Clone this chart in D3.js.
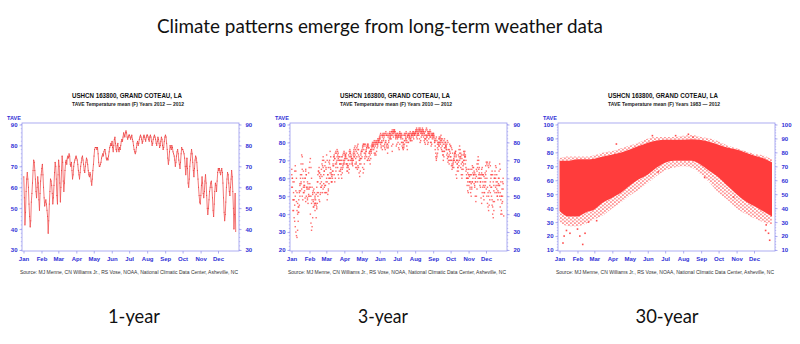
<!DOCTYPE html>
<html><head><meta charset="utf-8">
<script src="https://cdn.jsdelivr.net/npm/d3@7"></script>
<style>body{margin:0;background:#fff}svg{display:block}</style>
</head><body>
<script>
// ---------- data ----------
const months = ["Jan","Feb","Mar","Apr","May","Jun","Jul","Aug","Sep","Oct","Nov","Dec"];
const monthStart = [0,31,60,91,121,152,182,213,244,274,305,335];
const panelLabels = ["1-year","3-year","30-year"];
const subtitles = ["TAVE Temperature mean (F) Years 2012 \u2014 2012","TAVE Temperature mean (F) Years 2010 \u2014 2012","TAVE Temperature mean (F) Years 1983 \u2014 2012"];
const yTicks1 = [30,40,50,60,70,80,90];
const yTicks2 = [20,30,40,50,60,70,80,90];
const yTicks3 = [10,20,30,40,50,60,70,80,90,100];

// daily mean temperature, 2012
const tave2012 = [
65,55,42,48,58,64,67,64,60,52,46,41,44,53,57,62,68,73,72,68,64,58,55,60,65,62,54,49,57,63,66,
69,71,66,60,55,51,53,54,52,49,46,38,44,52,58,64,63,61,57,52,55,61,67,72,70,64,56,52,66,
73,70,62,53,60,68,75,72,63,58,62,68,72,73,71,74,75,74,76,75,71,70,72,68,64,66,70,72,73,74,75,
74,73,71,68,66,64,67,70,72,74,75,73,71,68,67,70,72,74,73,71,68,66,65,67,66,63,61,64,68,71,
75,78,79,79,79,78,79,76,72,70,70,71,72,74,75,76,75,77,78,78,76,74,73,74,73,75,77,79,80,81,80,
82,79,77,80,83,84,81,78,77,80,81,78,77,79,78,80,82,83,82,84,86,85,84,86,87,86,84,83,84,85,
85,84,83,84,85,83,82,80,78,77,76,77,79,81,82,80,81,83,84,85,84,83,81,82,84,85,84,83,82,84,85,
85,84,83,82,84,85,84,82,80,81,83,84,85,84,83,81,80,82,84,83,81,79,80,82,84,83,80,78,79,82,84,
85,84,81,78,74,71,73,77,80,79,78,80,79,77,76,75,73,70,72,75,77,78,76,73,71,69,72,76,79,78,
78,77,76,74,70,66,70,74,69,62,60,64,70,73,76,78,76,72,68,65,69,73,75,74,72,68,64,60,56,53,52,
56,61,65,62,57,55,58,63,66,62,56,50,47,50,54,58,60,62,63,60,55,49,46,52,58,62,61,58,63,67,
69,68,69,67,66,68,69,67,62,55,48,44,47,53,60,64,67,66,62,58,56,60,64,68,65,58,50,40,47,57,39];

// daily mean temperature, 2011
const tave2011 = [
55,60,58,52,48,45,50,53,47,42,40,44,48,52,56,60,58,54,50,48,52,56,53,49,47,50,55,58,54,51,55,
50,40,35,31,33,38,44,48,45,42,46,51,55,58,62,64,66,63,60,62,65,68,70,66,62,64,67,69,
65,60,58,62,66,69,70,66,60,58,61,64,67,70,72,71,68,66,69,72,73,74,72,70,68,65,62,60,63,66,68,
69,71,73,72,68,64,67,70,73,75,76,74,72,70,68,71,74,76,77,78,76,75,77,78,79,76,72,70,71,73,
75,72,66,63,65,68,71,73,75,77,78,79,77,74,70,68,71,74,76,78,79,80,81,80,78,79,80,81,82,81,82,
83,84,85,84,80,76,78,82,85,84,85,86,84,79,74,77,81,85,84,83,84,86,87,86,85,86,87,86,82,78,
79,82,83,84,85,86,85,84,83,80,77,79,84,85,84,83,82,78,76,80,84,84,83,82,81,83,84,85,86,85,84,
85,86,87,88,87,86,87,88,87,86,85,86,87,88,87,86,85,84,86,87,88,87,86,85,84,86,87,86,85,84,83,
84,85,83,80,76,72,70,72,74,76,78,80,82,83,84,82,78,75,73,75,77,79,80,78,76,74,72,70,68,70,
72,70,67,65,66,68,70,72,74,75,73,70,68,66,69,72,74,71,66,62,60,62,65,68,70,72,73,70,65,60,58,
60,62,58,54,58,62,65,67,66,62,57,55,58,62,65,68,70,72,70,66,62,58,60,63,66,62,56,52,55,60,
62,64,60,55,52,50,53,56,58,60,62,64,62,58,56,60,62,60,56,52,50,53,57,60,56,52,48,50,54,58,60];

// daily mean temperature, 2010
const tave2010 = [
62,60,48,42,38,36,33,30,28,27,31,36,41,45,50,53,57,62,65,60,55,52,56,60,64,62,55,48,46,50,54,
57,55,50,46,48,52,47,44,46,50,48,45,43,46,50,52,48,47,51,55,58,56,52,54,57,55,52,56,
58,52,48,51,54,57,60,63,65,62,58,60,64,67,62,58,60,64,68,70,66,62,60,64,68,70,72,68,65,67,70,
68,70,72,73,74,71,68,66,63,65,68,70,72,71,69,70,73,75,72,68,66,69,72,74,76,73,70,68,71,74,
75,76,77,78,76,74,72,74,75,77,78,79,78,77,75,73,76,78,79,80,79,78,77,79,80,81,80,79,78,80,81,
82,83,80,78,81,84,85,84,83,79,76,80,84,85,84,83,84,85,86,85,82,78,75,79,83,87,86,85,84,83,
84,83,80,77,76,79,83,84,85,84,82,80,78,81,84,85,86,85,84,83,80,82,85,86,85,84,81,85,86,85,84,
85,86,87,86,85,84,85,86,87,88,87,86,85,86,87,86,85,82,79,82,84,83,84,85,86,85,84,83,80,84,85,
84,83,82,80,81,82,83,81,79,80,82,83,82,81,80,81,82,80,79,81,82,80,78,77,79,81,80,76,73,75,
74,72,70,68,67,69,71,73,74,75,72,70,68,66,64,67,70,72,74,73,71,69,67,70,73,75,72,66,62,60,63,
65,62,58,55,52,50,54,58,60,62,64,63,60,58,61,64,66,68,65,60,56,58,62,65,62,55,50,48,52,56,
58,54,50,46,44,42,45,48,52,55,50,45,40,38,42,47,52,55,58,54,50,48,52,56,50,44,40,42,46,50,54];

// 30-year envelope, at half-month steps (day of year)
const envDays    = [0,15,31,46,60,75,91,106,121,136,152,167,182,197,213,228,244,259,274,289,305,320,335,350,366];
const envUpper   = [74,74,75,75,75.5,77,78.5,80,82,84.5,87,88.5,89,89,89,89.5,88.8,87.4,85.4,83.5,82,80,77.8,76,73];
const envLower   = [38,34,34,37,39,44,47.5,51,56,60.5,64,69,72.5,74,74,74,71,66.5,62,56,50,45,41.5,38,34];
const fringeUpper= [76,77,77,77,78,80,81,83,85,87,90,91,91,91,92,92.5,91,90,88,85,83,81,79,78,75];
const fringeLower= [30,27,27,29,32,35,40,44,49,53,58,63,67,69,70,69,64,58,51,46,40,36,33,30,28];
const outlierDays  = [6,8,12,18,31,35,40,44,50,64,98,160,200,222,230,170,250,300,355,360,362,356];
const outlierTemps = [15,20,24,22,25,20,14,22,30,31,86,92,92,93,91,66,62,48,24,22,17,28];

// ---------- layout ----------
const W = 800, H = 344;
const panelLefts = [22,290,558];
const PW = 217, TOP = 123, BOT = 251;
const BLUE = "#2f2fd6", FRAME = "#9898ee", RED = "#ff3c3c";

const svg = d3.select("body").append("svg").attr("width",W).attr("height",H);
svg.append("rect").attr("width",W).attr("height",H).attr("fill","#fff");

const defs = svg.append("defs");
const pat = defs.append("pattern").attr("id","speck").attr("patternUnits","userSpaceOnUse")
  .attr("width",4).attr("height",3.5);
pat.append("rect").attr("x",0.3).attr("y",0.3).attr("width",1.3).attr("height",1.3).attr("fill",RED);
pat.append("rect").attr("x",2.3).attr("y",2.0).attr("width",1.3).attr("height",1.3).attr("fill",RED);

svg.append("text").attr("x",380).attr("y",33).attr("text-anchor","middle")
  .attr("font-family","Lato, 'Open Sans', sans-serif").attr("font-size",20).attr("fill","#111")
  .attr("textLength",446).attr("lengthAdjust","spacingAndGlyphs")
  .text("Climate patterns emerge from long-term weather data");

const labelX = [134,383,667], labelW=[52,50,63];
panelLabels.forEach((t,i)=>{
  svg.append("text").attr("x",labelX[i]).attr("y",323).attr("text-anchor","middle")
    .attr("font-family","Lato, 'Open Sans', sans-serif").attr("font-size",19).attr("fill","#111")
    .attr("textLength",labelW[i]).attr("lengthAdjust","spacingAndGlyphs").text(t);
});

const panels = [
  {ymin:30,ymax:90,ticks:yTicks1},
  {ymin:20,ymax:90,ticks:yTicks2},
  {ymin:10,ymax:100,ticks:yTicks3}
];

function styleAxis(g){
  g.select(".domain").remove();
  g.selectAll("line").attr("stroke",FRAME).attr("stroke-width",0.8);
  g.selectAll("text").attr("fill",BLUE).attr("font-size",6).attr("font-weight","bold")
    .attr("font-family","'Liberation Sans', Arial, sans-serif");
}

panels.forEach((p,pi)=>{
  const L = panelLefts[pi], R = L+PW;
  const g = svg.append("g");
  const x = d3.scaleLinear().domain([0,366]).range([L+1.5, L+214]);
  const y = d3.scaleLinear().domain([p.ymin,p.ymax]).range([250,124.5]);

  // titles
  g.append("text").attr("x",L+105).attr("y",97.5).attr("text-anchor","middle")
    .attr("font-family","'Liberation Sans', Arial, sans-serif").attr("font-weight","bold")
    .attr("font-size",7).attr("fill","#111").attr("textLength",110).attr("lengthAdjust","spacingAndGlyphs")
    .text("USHCN 163800, GRAND COTEAU, LA");
  g.append("text").attr("x",L+106).attr("y",105.5).attr("text-anchor","middle")
    .attr("font-family","'Liberation Sans', Arial, sans-serif").attr("font-weight","bold")
    .attr("font-size",5.5).attr("fill","#222").attr("textLength",112).attr("lengthAdjust","spacingAndGlyphs")
    .text(subtitles[pi]);
  g.append("text").attr("x",L-15).attr("y",120)
    .attr("font-family","'Liberation Sans', Arial, sans-serif").attr("font-weight","bold")
    .attr("font-size",5.5).attr("fill",BLUE).text("TAVE");
  g.append("text").attr("x",L+107).attr("y",274).attr("text-anchor","middle")
    .attr("font-family","'Liberation Sans', Arial, sans-serif")
    .attr("font-size",5.5).attr("fill","#333").attr("textLength",218).attr("lengthAdjust","spacingAndGlyphs")
    .text("Source: MJ Menne, CN Williams Jr., RS Vose, NOAA, National Climatic Data Center, Asheville, NC");

  // data
  const clip = "clip"+pi;
  defs.append("clipPath").attr("id",clip).append("rect").attr("x",L).attr("y",TOP).attr("width",PW).attr("height",BOT-TOP);
  const d = g.append("g").attr("clip-path",`url(#${clip})`);
  if (pi===0){
    d.append("path").datum(tave2012).attr("fill","none").attr("stroke","#f04a4a").attr("stroke-width",0.75)
      .attr("d", d3.line().x((v,i)=>x(i+0.5)).y(v=>y(v)));
    d.selectAll("circle").data(tave2012).join("circle").attr("cx",(v,i)=>x(i+0.5)).attr("cy",v=>y(v))
      .attr("r",0.5).attr("fill","#e83030");
  } else if (pi===1){
    [tave2010,tave2011,tave2012].forEach(arr=>{
      d.append("g").selectAll("rect").data(arr).join("rect")
        .attr("x",(v,i)=>x(i+0.5)-0.7).attr("y",v=>y(v)-0.7).attr("width",1.4).attr("height",1.4)
        .attr("fill","#ff4646").attr("opacity",0.8);
    });
  } else {
    const idx = d3.range(envDays.length);
    const area = (lo,hi)=>d3.area().curve(d3.curveMonotoneX).x(i=>x(envDays[i])).y0(i=>y(lo[i])).y1(i=>y(hi[i]));
    d.append("path").datum(idx).attr("fill","url(#speck)").attr("d",area(fringeLower,envLower));
    d.append("path").datum(idx).attr("fill","url(#speck)").attr("d",area(envUpper,fringeUpper));
    d.append("path").datum(idx).attr("fill",RED).attr("d",area(envLower,envUpper));
    d.selectAll("rect.o").data(outlierDays).join("rect").attr("class","o")
      .attr("x",(v)=>x(v)-0.8).attr("y",(v,i)=>y(outlierTemps[i])-0.8).attr("width",1.6).attr("height",1.6)
      .attr("fill","#ff4d4d");
  }

  // frame
  g.append("rect").attr("x",L).attr("y",TOP).attr("width",PW).attr("height",BOT-TOP)
    .attr("fill","none").attr("stroke",FRAME).attr("stroke-width",0.8);

  // minor ticks
  const minor = d3.range(p.ymin, p.ymax+0.1, 2);
  g.append("g").selectAll("line").data(minor).join("line")
    .attr("x1",L-1.2).attr("x2",L).attr("y1",v=>y(v)).attr("y2",v=>y(v)).attr("stroke",FRAME).attr("stroke-width",0.6);
  g.append("g").selectAll("line").data(minor).join("line")
    .attr("x1",R).attr("x2",R+1.2).attr("y1",v=>y(v)).attr("y2",v=>y(v)).attr("stroke",FRAME).attr("stroke-width",0.6);

  g.append("g").attr("transform",`translate(${L},0)`)
    .call(d3.axisLeft(y).tickValues(p.ticks).tickSize(2.5).tickPadding(2)).call(styleAxis);
  g.append("g").attr("transform",`translate(${R},0)`)
    .call(d3.axisRight(y).tickValues(p.ticks).tickSize(2.5).tickPadding(4)).call(styleAxis);
  g.append("g").attr("transform",`translate(0,${BOT})`)
    .call(d3.axisBottom(x).tickValues(monthStart).tickFormat((v,i)=>months[i]).tickSize(2.5).tickPadding(3)).call(styleAxis);
});
</script>
</body></html>
